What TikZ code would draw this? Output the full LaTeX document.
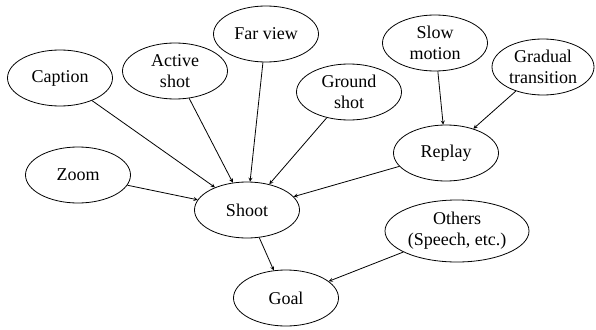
\documentclass[tikz,border=0pt]{standalone}
\usepackage{fontspec}
\setmainfont{Liberation Serif}
\usetikzlibrary{shapes.geometric}
\tikzset{>=stealth}
\tikzset{cue/.style={ellipse, draw, thick, minimum width=105pt, minimum height=56pt, inner sep=0pt, align=center, font=\fontsize{18}{21}\selectfont}}

\begin{document}
\begin{tikzpicture}[x=1pt, y=-1pt]
\useasboundingbox (0,0) rectangle (596,329);
\node[cue] (caption) at (60,78) {Caption};
\node[cue] (active) at (175,71) {Active\\shot};
\node[cue] (far) at (266,34) {Far view};
\node[cue] (ground) at (349,92) {Ground\\shot};
\node[cue] (slow) at (435,43) {Slow\\motion};
\node[cue, minimum width=102pt] (gradual) at (543,67) {Gradual\\transition};
\node[cue] (zoom) at (78,175) {Zoom};
\node[cue] (replay) at (446,153) {Replay};
\node[cue] (shoot) at (247,210) {Shoot};
\node[cue, minimum width=144pt, minimum height=62pt] (others) at (457,231) {Others\\(Speech, etc.)};
\node[cue] (goal) at (286,298) {Goal};
\draw[->, thick] (caption) -- (shoot);
\draw[->, thick] (active) -- (shoot);
\draw[->, thick] (far) -- (shoot);
\draw[->, thick] (ground) -- (shoot);
\draw[->, thick] (zoom) -- (shoot);
\draw[->, thick] (replay) -- (shoot);
\draw[->, thick] (slow) -- (replay);
\draw[->, thick] (gradual) -- (replay);
\draw[->, thick] (shoot) -- (goal);
\draw[->, thick] (others) -- (goal);
\end{tikzpicture}
\end{document}
